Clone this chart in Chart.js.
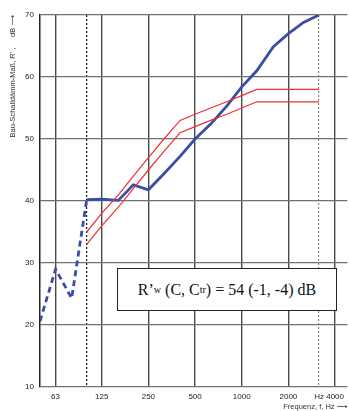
<!DOCTYPE html>
<html>
<head>
<meta charset="utf-8">
<script src="https://cdn.jsdelivr.net/npm/chart.js@4.4.1/dist/chart.umd.min.js"></script>
<style>
  html, body { margin: 0; padding: 0; background: #fff; }
  #wrap { position: relative; width: 349px; height: 411px; }
  #kasten {
    position: absolute; left: 117px; top: 268px; width: 218px; height: 41px;
    border: 1.5px solid #222; background: #fff;
    font-family: "Liberation Serif", "Times New Roman", serif; font-size: 16px; color: #111;
    display: flex; align-items: center; justify-content: center; white-space: nowrap;
  }
  #kasten sub { font-size: 10px; vertical-align: -2px; }
</style>
</head>
<body>
<div id="wrap">
  <canvas id="grafik" width="349" height="411"></canvas>
  <div id="kasten">R’<sub>w</sub>&nbsp;(C, C<sub>tr</sub>) = 54 (-1, -4) dB</div>
</div>
<script>
// Terzfrequenzen, Hz
const frequenzen = [50, 63, 80, 100, 125, 160, 200, 250, 315, 400, 500, 630, 800, 1000, 1250, 1600, 2000, 2500, 3150];
// gemessenes Bau-Schalldämm-Maß R', dB
const messwerte = [20.6, 29.0, 24.3, 40.2, 40.3, 40.1, 42.6, 41.8, 44.4, 47.2, 50.0, 52.4, 55.3, 58.4, 61.0, 64.9, 67.0, 68.8, 70.0];
// Bezugskurven (100 - 3150 Hz)
const bezugFrequenzen = [100, 125, 160, 200, 250, 315, 400, 500, 630, 800, 1000, 1250, 1600, 2000, 2500, 3150];
const bezugOben = [35, 38, 41, 44, 47, 50, 53, 54, 55, 56, 57, 58, 58, 58, 58, 58];
const bezugUnten = [33, 36, 39, 42, 45, 48, 51, 52, 53, 54, 55, 56, 56, 56, 56, 56];
// Achsen
const xTicks = [63, 100, 125, 250, 500, 1000, 2000, 3150, 4000];
const xLabels = { 63: "63", 125: "125", 250: "250", 500: "500", 1000: "1000", 2000: "2000", 3150: "Hz", 4000: "4000" };
const xGestrichelt = [100, 3150];
const yTicks = [10, 20, 30, 40, 50, 60, 70];

const punkte = (xs, ys) => ys.map((v, i) => ({ x: xs[i], y: v }));
const schrift = { family: "'Liberation Sans', Arial, 'DejaVu Sans'", size: 8 };

new Chart(document.getElementById("grafik"), {
  type: "line",
  data: {
    datasets: [
      {
        data: punkte(bezugFrequenzen, bezugOben),
        borderColor: "#f03030", borderWidth: 1.2, pointRadius: 0
      },
      {
        data: punkte(bezugFrequenzen, bezugUnten),
        borderColor: "#f03030", borderWidth: 1.2, pointRadius: 0
      },
      {
        data: punkte(frequenzen, messwerte),
        borderColor: "#3a4ea3", borderWidth: 2.8, pointRadius: 0,
        segment: { borderDash: ctx => ctx.p0DataIndex < 3 ? [6, 4] : undefined }
      }
    ]
  },
  options: {
    responsive: false,
    animation: false,
    devicePixelRatio: 1,
    layout: { padding: { top: 15, right: 0, left: 0, bottom: 0 } },
    plugins: { legend: { display: false }, tooltip: { enabled: false } },
    scales: {
      x: {
        type: "logarithmic", position: "bottom", min: 50, max: 4800,
        afterBuildTicks: s => { s.ticks = xTicks.map(v => ({ value: v })); },
        afterFit: s => { s.height = 24; },
        ticks: {
          autoSkip: false, maxRotation: 0, padding: 5, color: "#222", font: schrift,
          callback: v => xLabels[v] || ""
        },
        grid: {
          drawTicks: false, lineWidth: 1.4,
          color: c => xGestrichelt.includes(c.tick && c.tick.value) ? "rgba(0,0,0,0)" : "#4a4a4a"
        },
        border: { display: false },
        title: {
          display: true, text: "Frequenz, f, Hz ⟶", align: "end", color: "#333",
          font: { family: schrift.family, size: 7.5 }, padding: { top: 0, bottom: 0 }
        }
      },
      x2: {
        type: "logarithmic", position: "bottom", min: 50, max: 4800,
        afterBuildTicks: s => { s.ticks = xGestrichelt.map(v => ({ value: v })); },
        afterFit: s => { s.height = 0; },
        ticks: { display: false },
        grid: {
          drawTicks: false, lineWidth: 1.2,
          color: c => (c.tick && c.tick.value === 100) ? "#111" : "#8a8a8a"
        },
        border: { display: false, dash: [2, 2] }
      },
      y: {
        min: 10, max: 70,
        afterBuildTicks: s => { s.ticks = yTicks.map(v => ({ value: v })); },
        afterFit: s => { s.width = 40; },
        ticks: { padding: 6, color: "#222", font: schrift },
        grid: { drawTicks: false, lineWidth: 1.3, color: "#707070" },
        border: { display: true, color: "#222", width: 1.5 },
        title: {
          display: true, text: "Bau-Schalldämm-Maß, R’ ,     dB ⟶", align: "end", color: "#333",
          font: { family: schrift.family, size: 7.5 }, padding: { top: 8, bottom: 0 }
        }
      }
    }
  }
});
</script>
</body>
</html>
